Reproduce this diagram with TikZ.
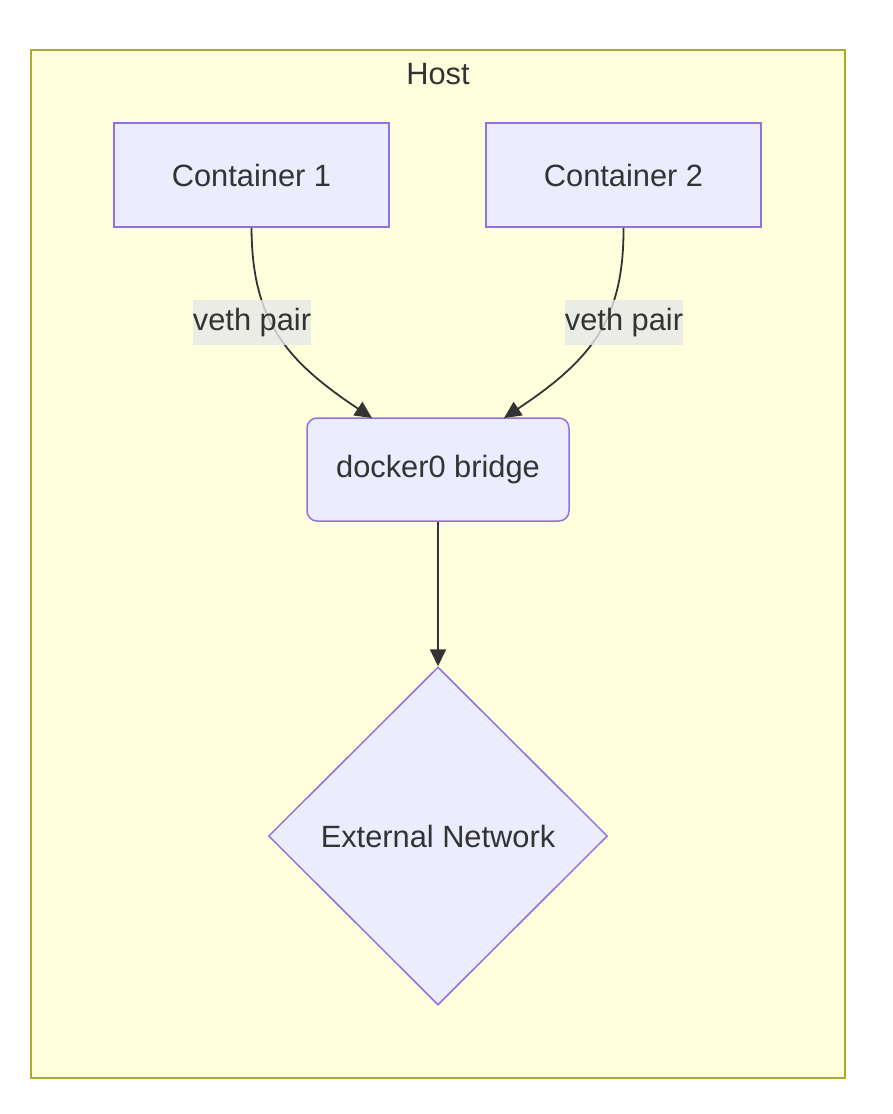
\documentclass[tikz,border=0pt]{standalone}
\usepackage{fontspec}
\setmainfont{Liberation Sans}
\usetikzlibrary{shapes.geometric,arrows.meta}
\definecolor{clfill}{HTML}{FFFFDE}
\definecolor{cldraw}{HTML}{AAAA33}
\definecolor{ndfill}{HTML}{ECECFF}
\definecolor{nddraw}{HTML}{9370DB}
\definecolor{txt}{HTML}{333333}
\definecolor{lblbg}{HTML}{E8E8E8}
\tikzset{
  base/.style={font=\fontsize{30.8}{36}\selectfont, text=txt},
  boxnode/.style={base, draw=nddraw, fill=ndfill, line width=1.5pt, minimum width=275pt, minimum height=104pt, inner sep=0pt},
  roundnode/.style={boxnode, rounded corners=10pt, minimum width=262pt, minimum height=103pt},
  dianode/.style={base, shape=diamond, draw=nddraw, fill=ndfill, line width=1.5pt, minimum width=339pt, minimum height=338pt, inner sep=0pt},
  edge/.style={draw=txt, line width=1.8pt, -{Triangle[length=17pt,width=16pt]}},
  lbl/.style={base, fill=lblbg, fill opacity=0.8, text opacity=1, minimum width=118pt, minimum height=45pt, inner sep=0pt},
}
\begin{document}
\begin{tikzpicture}[x=1pt,y=-1pt]
\useasboundingbox (0,0) rectangle (892,1114);
\node[draw=cldraw, fill=clfill, line width=1.5pt, minimum width=814pt, minimum height=1028pt, inner sep=0pt] (host) at (438,564) {};
\node[base] (hostlbl) at (438,74) {Host};
\node[boxnode] (c1) at (251.5,175) {Container 1};
\node[boxnode] (c2) at (623.5,175) {Container 2};
\node[roundnode] (br) at (438,469.5) {docker0 bridge};
\node[dianode] (ext) at (438,836) {External Network};
\coordinate (t1) at (372,418);
\coordinate (t2) at (504,418);
\draw[edge] (c1.south) .. controls (252,320) and (285,360) .. (t1);
\draw[edge] (c2.south) .. controls (624,320) and (591,360) .. (t2);
\draw[edge] (br.south) -- (ext.north);
\node[lbl] (l1) at (252,322.5) {veth pair};
\node[lbl] (l2) at (624,322.5) {veth pair};
\end{tikzpicture}
\end{document}
